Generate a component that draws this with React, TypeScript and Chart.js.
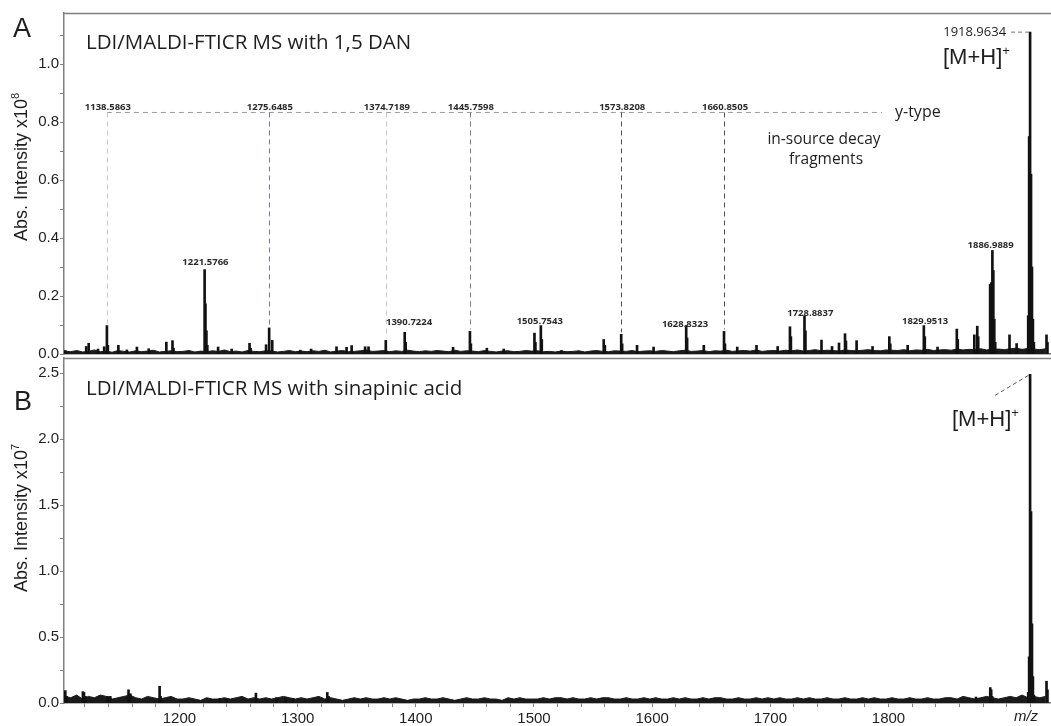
import React, { useEffect, useRef } from "react";
import { Chart, registerables } from "chart.js";

Chart.register(...registerables);

// ---------- data ----------
const MZ_MIN = 1102.3;
const MZ_MAX = 1937.5;
const xTickLabelValues = [1200, 1300, 1400, 1500, 1600, 1700, 1800];

// Panel A (intensity in units of 1e8)
const peakMzA = [1103.4, 1121.1, 1123.2, 1131.1, 1136.3, 1138.6, 1139.4, 1148.3, 1155.5, 1164.0, 1174.0, 1188.9, 1194.1, 1195.0, 1221.3, 1222.0, 1222.8, 1223.6, 1232.7, 1244.2, 1259.3, 1260.2, 1273.3, 1275.9, 1278.5, 1302.2, 1311.4, 1332.9, 1341.4, 1345.7, 1357.1, 1360.0, 1374.6, 1390.6, 1391.4, 1431.5, 1445.8, 1446.6, 1460.1, 1474.4, 1500.4, 1501.2, 1505.8, 1506.6, 1523.3, 1559.0, 1560.0, 1573.8, 1574.6, 1587.2, 1601.2, 1628.8, 1629.6, 1643.7, 1660.8, 1661.6, 1672.0, 1688.3, 1706.2, 1716.6, 1717.4, 1728.9, 1729.7, 1743.3, 1752.2, 1758.1, 1763.2, 1764.0, 1773.0, 1786.5, 1800.7, 1801.5, 1816.2, 1829.9, 1830.7, 1841.5, 1857.8, 1858.6, 1872.6, 1875.1, 1875.9, 1886.0, 1886.9, 1887.9, 1888.7, 1889.5, 1890.3, 1902.4, 1908.4, 1918.2, 1919.0, 1919.8, 1920.6, 1921.4, 1922.2, 1923.0, 1933.7, 1934.5];
const peakIntA = [0.012, 0.026, 0.037, 0.017, 0.025, 0.098, 0.03, 0.03, 0.014, 0.024, 0.018, 0.041, 0.046, 0.02, 0.291, 0.173, 0.08, 0.03, 0.024, 0.017, 0.037, 0.02, 0.032, 0.09, 0.047, 0.013, 0.017, 0.025, 0.023, 0.029, 0.025, 0.025, 0.047, 0.075, 0.04, 0.023, 0.078, 0.035, 0.02, 0.017, 0.072, 0.04, 0.098, 0.05, 0.012, 0.05, 0.03, 0.068, 0.035, 0.03, 0.024, 0.098, 0.055, 0.03, 0.078, 0.035, 0.024, 0.03, 0.026, 0.094, 0.06, 0.132, 0.08, 0.048, 0.026, 0.038, 0.07, 0.045, 0.046, 0.026, 0.06, 0.035, 0.03, 0.098, 0.06, 0.024, 0.086, 0.05, 0.066, 0.096, 0.06, 0.24, 0.246, 0.357, 0.288, 0.12, 0.04, 0.066, 0.036, 0.132, 0.75, 1.11, 0.62, 0.3, 0.12, 0.04, 0.066, 0.04];
// baseline noise, sampled every 5 m/z from 1103, in units of 0.001 x 1e8
const noiseStartA = 1103;
const noiseStepA = 5;
const noiseA = [
  10, 8, 12, 7, 9, 14, 8, 10, 6, 12, 9, 7, 11, 8, 10, 13, 7, 9, 11, 8,
  9, 12, 7, 10, 8, 11, 9, 14, 8, 10, 7, 12, 9, 8, 11, 10, 7, 9, 12, 8,
  10, 8, 11, 9, 13, 7, 10, 12, 8, 9, 11, 14, 9, 10, 12, 8, 11, 9, 13, 10,
  8, 11, 9, 12, 10, 8, 13, 9, 11, 10, 8, 12, 9, 7, 10, 11, 8, 9, 12, 10,
  11, 8, 9, 7, 10, 8, 9, 11, 7, 10, 12, 9, 8, 11, 10, 9, 12, 8, 10, 11,
  9, 12, 10, 8, 11, 13, 9, 10, 12, 8, 11, 10, 13, 9, 11, 12, 10, 14, 9, 11,
  12, 10, 13, 11, 14, 10, 12, 15, 11, 13, 12, 10, 14, 12, 11, 13, 15, 12, 11, 14,
  13, 12, 15, 11, 14, 13, 16, 12, 14, 15, 13, 17, 14, 16, 15, 18, 14, 16, 17, 15, 18, 20, 16, 19, 17, 15, 18,
];

// Panel B (intensity in units of 1e7)
const peakMzB = [1103.4, 1104.5, 1118.3, 1119.2, 1120.5, 1139.2, 1141.5, 1156.9, 1158.5, 1183.2, 1184.0, 1234.0, 1240.0, 1264.7, 1282.0, 1290.0, 1296.0, 1325.1, 1326.2, 1874.0, 1886.1, 1886.9, 1887.7, 1918.2, 1919.0, 1919.8, 1920.6, 1921.4, 1922.2, 1923.0, 1933.7, 1934.5];
const peakIntB = [0.094, 0.05, 0.086, 0.08, 0.05, 0.05, 0.05, 0.1, 0.07, 0.127, 0.05, 0.035, 0.03, 0.075, 0.04, 0.04, 0.035, 0.08, 0.05, 0.045, 0.117, 0.1, 0.05, 0.08, 0.35, 2.49, 1.45, 0.6, 0.2, 0.06, 0.165, 0.1];
// baseline noise, every 5 m/z from 1103, in units of 0.01 x 1e7
const noiseStartB = 1103;
const noiseStepB = 5;
const noiseB = [
  5, 4, 6, 3, 5, 4, 6, 5, 3, 4, 5, 6, 4, 3, 5, 4, 3, 4, 5, 3,
  3, 4, 3, 2, 4, 3, 3, 4, 3, 4, 5, 3, 4, 3, 4, 3, 4, 5, 4, 3,
  4, 3, 4, 5, 3, 4, 3, 2, 3, 4, 3, 4, 3, 3, 4, 3, 4, 3, 2, 3,
  3, 4, 3, 3, 4, 3, 2, 3, 4, 3, 3, 4, 3, 3, 2, 4, 3, 4, 3, 3,
  3, 4, 3, 4, 4, 3, 4, 3, 3, 4, 3, 4, 4, 3, 3, 4, 3, 3, 4, 3,
  4, 3, 3, 4, 3, 4, 3, 3, 4, 3, 4, 4, 3, 3, 4, 3, 3, 4, 3, 4,
  3, 4, 3, 3, 4, 3, 4, 3, 3, 4, 3, 3, 4, 3, 3, 4, 3, 4, 3, 3,
  4, 3, 3, 4, 3, 3, 4, 3, 3, 4, 4, 3, 5, 4, 3, 4, 5, 4, 3, 4, 5, 4, 6, 4, 5, 4, 5,
];

// y-type in-source decay fragments
const fragMz = [1138.5863, 1275.6485, 1374.7189, 1445.7598, 1573.8208, 1660.8505];
const fragTop = [0.098, 0.09, 0.047, 0.078, 0.068, 0.078];
const fragLevel = 0.833;
const fragLineEndMz = 1794.5;

// labelled peaks in A: text, anchor m/z, anchor intensity
const peakLabelTextA = ["1221.5766", "1390.7224", "1505.7543", "1628.8323", "1728.8837", "1829.9513", "1886.9889"];
const peakLabelMzA = [1222.0, 1394.3, 1504.9, 1627.8, 1733.8, 1830.9, 1886.4];
const peakLabelIntA = [0.317, 0.108, 0.112, 0.102, 0.139, 0.112, 0.375];

const mainPeakMz = 1919.8;
const mainPeakIntA = 1.11;
const mainPeakIntB = 2.49;

// ---------- helpers ----------
const SANS = '"Liberation Sans", Arial, sans-serif';
const OPEN = '"Open Sans", sans-serif';
const TEXT = "#1e1e1e";
const AXIS = "#808080";

const pts = (xs: number[], ys: number[]) => xs.map((x, i) => ({ x, y: ys[i] }));
const noisePts = (start: number, step: number, vals: number[], unit: number) =>
  vals.map((v, i) => ({ x: start + i * step, y: v * unit }));

function drawSup(ctx: any, base: string, sup: string, x: number, y: number, baseFont: string, supFont: string, rise: number, align: string) {
  ctx.font = baseFont;
  const w1 = ctx.measureText(base).width;
  ctx.font = supFont;
  const w2 = ctx.measureText(sup).width;
  let sx = x;
  if (align === "center") sx = x - (w1 + w2) / 2;
  if (align === "right") sx = x - (w1 + w2);
  ctx.textAlign = "left";
  ctx.font = baseFont;
  ctx.fillText(base, sx, y);
  ctx.font = supFont;
  ctx.fillText(sup, sx + w1, y - rise);
}

function yTitle(ctx: any, cx: number, cy: number, exp: string) {
  ctx.save();
  ctx.translate(cx, cy);
  ctx.rotate(-Math.PI / 2);
  ctx.fillStyle = TEXT;
  ctx.textBaseline = "middle";
  drawSup(ctx, "Abs. Intensity x10", exp, 0, 0, `18px ${SANS}`, `11px ${SANS}`, 6, "center");
  ctx.restore();
}

function topBorder(chart: any) {
  const { ctx, chartArea } = chart;
  ctx.save();
  ctx.strokeStyle = AXIS;
  ctx.lineWidth = 1.5;
  ctx.beginPath();
  ctx.moveTo(chartArea.left, chartArea.top + 0.5);
  ctx.lineTo(chartArea.right, chartArea.top + 0.5);
  ctx.stroke();
  ctx.restore();
}

const B_TOP = 356;

const annotA = {
  id: "annotA",
  afterDraw(chart: any) {
    const { ctx, scales } = chart;
    const x = scales.x, y = scales.y;
    topBorder(chart);
    ctx.save();
    ctx.fillStyle = TEXT;
    ctx.textBaseline = "alphabetic";
    ctx.textAlign = "left";
    ctx.font = `27px ${SANS}`;
    ctx.fillText("A", 13, 37);
    ctx.font = `20.5px ${OPEN}`;
    ctx.fillText("LDI/MALDI-FTICR MS with 1,5 DAN", 86, 48.5);
    yTitle(ctx, 22, 167, "8");

    // fragment ladder
    const yl = y.getPixelForValue(fragLevel);
    ctx.lineWidth = 1;
    ctx.setLineDash([5, 4]);
    ctx.strokeStyle = "#9a9a9a";
    ctx.beginPath();
    ctx.moveTo(x.getPixelForValue(fragMz[0]), yl);
    ctx.lineTo(x.getPixelForValue(fragLineEndMz), yl);
    ctx.stroke();
    const fragColors = ["#c8c8c8", "#6f7ba3", "#c8c8c8", "#6f7ba3", "#505050", "#505050"];
    fragMz.forEach((m, i) => {
      const px = Math.round(x.getPixelForValue(m)) + 0.5;
      ctx.strokeStyle = fragColors[i];
      ctx.beginPath();
      ctx.moveTo(px, yl);
      ctx.lineTo(px, y.getPixelForValue(fragTop[i]) - 2);
      ctx.stroke();
    });
    ctx.setLineDash([]);
    ctx.fillStyle = "#2a2a2a";
    ctx.font = `bold 9.5px ${OPEN}`;
    ctx.textAlign = "center";
    ctx.textBaseline = "middle";
    fragMz.forEach((m) => {
      ctx.fillText(m.toFixed(4), x.getPixelForValue(m) + 1, yl - 5);
    });
    peakLabelTextA.forEach((t, i) => {
      ctx.fillText(t, x.getPixelForValue(peakLabelMzA[i]), y.getPixelForValue(peakLabelIntA[i]));
    });

    ctx.fillStyle = TEXT;
    ctx.font = `16px ${OPEN}`;
    ctx.textAlign = "left";
    ctx.fillText("y-type", 895, yl);
    ctx.font = `15.5px ${OPEN}`;
    ctx.textAlign = "center";
    ctx.fillText("in-source decay", 824, 140);
    ctx.fillText("fragments", 826, 160);

    // main peak label
    const mx = x.getPixelForValue(mainPeakMz);
    const my = y.getPixelForValue(mainPeakIntA);
    ctx.font = `13px ${OPEN}`;
    ctx.textAlign = "right";
    ctx.fillText("1918.9634", mx - 24, my);
    ctx.strokeStyle = "#777";
    ctx.lineWidth = 1;
    ctx.setLineDash([4, 3]);
    ctx.beginPath();
    ctx.moveTo(mx - 19, my);
    ctx.lineTo(mx, my);
    ctx.stroke();
    ctx.setLineDash([]);
    ctx.textBaseline = "alphabetic";
    drawSup(ctx, "[M+H]", "+", 943, 64, `22px ${SANS}`, `13px ${SANS}`, 9, "left");
    ctx.restore();
  },
};

const annotB = {
  id: "annotB",
  afterDraw(chart: any) {
    const { ctx, scales } = chart;
    const x = scales.x, y = scales.y;
    topBorder(chart);
    ctx.save();
    ctx.fillStyle = TEXT;
    ctx.textBaseline = "alphabetic";
    ctx.textAlign = "left";
    ctx.font = `27px ${SANS}`;
    ctx.fillText("B", 14, 410 - B_TOP);
    ctx.font = `20.5px ${OPEN}`;
    ctx.fillText("LDI/MALDI-FTICR MS with sinapinic acid", 86, 395 - B_TOP);
    yTitle(ctx, 22, 518 - B_TOP, "7");
    drawSup(ctx, "[M+H]", "+", 952, 426 - B_TOP, `22px ${SANS}`, `13px ${SANS}`, 9, "left");

    const mx = x.getPixelForValue(mainPeakMz);
    const my = y.getPixelForValue(mainPeakIntB);
    ctx.strokeStyle = "#555";
    ctx.lineWidth = 1;
    ctx.setLineDash([4, 3]);
    ctx.beginPath();
    ctx.moveTo(mx - 35, my + 21);
    ctx.lineTo(mx, my);
    ctx.stroke();
    ctx.setLineDash([]);

    ctx.font = `italic 15px ${SANS}`;
    ctx.textAlign = "center";
    ctx.textBaseline = "middle";
    ctx.fillText("m/z", 1026, 717 - B_TOP);
    ctx.restore();
  },
};

function baseConfig(peaks: any[], noise: any[], yMax: number, yStep: number, yEvery: number, padTop: number, xHeight: number, showX: boolean, plugin: any) {
  return {
    type: "bar",
    data: {
      datasets: [
        {
          type: "line",
          data: noise,
          borderColor: "#1a1a1a",
          backgroundColor: "#1a1a1a",
          borderWidth: 1,
          pointRadius: 0,
          fill: "origin",
          tension: 0,
          order: 2,
        },
        {
          type: "bar",
          data: peaks,
          backgroundColor: "#121212",
          barThickness: 2,
          order: 1,
        },
      ],
    },
    options: {
      responsive: false,
      animation: false,
      devicePixelRatio: 1,
      layout: { padding: { top: padTop, left: 0, right: 0, bottom: 0 } },
      plugins: { legend: { display: false }, tooltip: { enabled: false } },
      scales: {
        x: {
          type: "linear",
          min: MZ_MIN,
          max: MZ_MAX,
          offset: false,
          ticks: {
            display: showX,
            stepSize: 20,
            includeBounds: false,
            autoSkip: false,
            maxRotation: 0,
            padding: 3,
            color: TEXT,
            font: { family: SANS, size: 15 },
            callback: (v: number) => (xTickLabelValues.includes(Math.round(v)) ? String(Math.round(v)) : ""),
          },
          grid: { display: showX, offset: false, drawOnChartArea: false, drawTicks: true, tickLength: 4, color: AXIS },
          border: { display: true, color: "#6f6f6f", width: 1.5 },
          afterFit: (s: any) => {
            s.height = xHeight;
            s.paddingLeft = 0;
            s.paddingRight = 0;
          },
        },
        y: {
          type: "linear",
          min: 0,
          max: yMax,
          ticks: {
            stepSize: yStep,
            includeBounds: false,
            autoSkip: false,
            padding: 1,
            color: TEXT,
            font: { family: SANS, size: 15 },
            callback: (v: number) => {
              const k = Math.round(v / yStep);
              return k % yEvery === 0 ? (k * yStep).toFixed(1) : "";
            },
          },
          grid: { drawOnChartArea: false, drawTicks: true, tickLength: 4, color: AXIS },
          border: { display: true, color: AXIS, width: 1.5 },
          afterFit: (s: any) => {
            s.width = 64;
            s.paddingTop = 0;
            s.paddingBottom = 0;
          },
        },
      },
    },
    plugins: [plugin],
  };
}

export default function App() {
  const refA = useRef<HTMLCanvasElement>(null);
  const refB = useRef<HTMLCanvasElement>(null);

  useEffect(() => {
    const cfgA: any = baseConfig(
      pts(peakMzA, peakIntA),
      noisePts(noiseStartA, noiseStepA, noiseA, 0.001),
      1.176, 0.1, 2, 13, 4, false, annotA
    );
    const cfgB: any = baseConfig(
      pts(peakMzB, peakIntB),
      noisePts(noiseStartB, noiseStepB, noiseB, 0.01),
      2.614, 0.25, 2, 2, 23, true, annotB
    );
    const a = new Chart(refA.current as any, cfgA);
    const b = new Chart(refB.current as any, cfgB);
    return () => {
      a.destroy();
      b.destroy();
    };
  }, []);

  return (
    <div style={{ position: "fixed", left: 0, top: 0, width: 1051, height: 726, background: "#fff" }}>
      <canvas ref={refA} width={1051} height={358} style={{ position: "absolute", left: 0, top: 0, display: "block" }} />
      <canvas ref={refB} width={1051} height={370} style={{ position: "absolute", left: 0, top: B_TOP, display: "block" }} />
    </div>
  );
}
